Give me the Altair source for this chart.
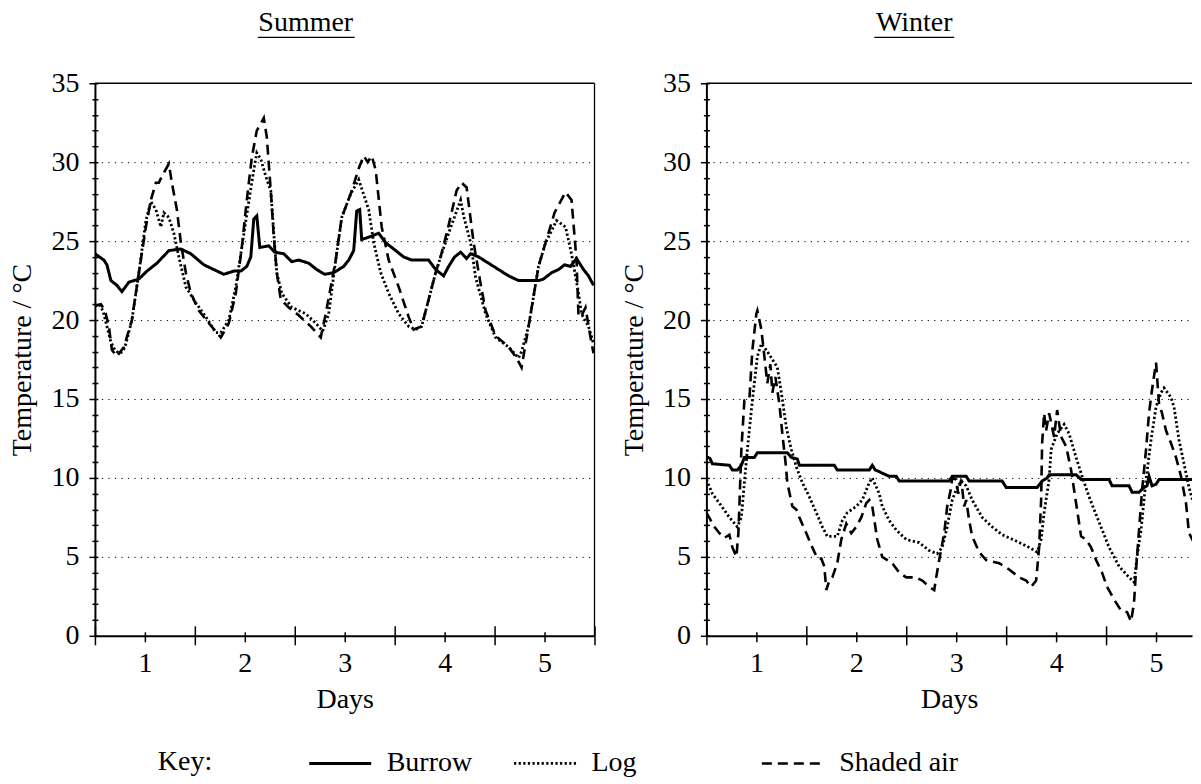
import altair as alt
import pandas as pd

FONT = "Liberation Serif"
FS = 28
NBSP = "\u00a0"
ZWSP = "\u200b"

series_names = ["Burrow", "Log", "Shaded air"]

# ---- Summer ----
summer_burrow_day = [0.50, 0.59, 0.62, 0.66, 0.72, 0.77, 0.84, 0.94, 1.02, 1.12, 1.24, 1.36, 1.46, 1.59, 1.69, 1.79,
                     1.89, 1.96, 2.02, 2.06, 2.09, 2.12, 2.15, 2.24, 2.30, 2.39, 2.47, 2.54, 2.64, 2.72, 2.80, 2.89,
                     2.99, 3.04, 3.09, 3.12, 3.15, 3.17, 3.26, 3.34, 3.41, 3.49, 3.59, 3.67, 3.84, 3.91, 3.99, 4.04,
                     4.10, 4.16, 4.22, 4.26, 4.34, 4.44, 4.54, 4.64, 4.74, 4.84, 4.94, 4.99, 5.07, 5.14, 5.20, 5.26,
                     5.32, 5.39, 5.44, 5.49]
summer_burrow_temp = [24.2, 23.8, 23.5, 22.5, 22.2, 21.8, 22.4, 22.6, 23.1, 23.6, 24.4, 24.5, 24.2, 23.5, 23.2, 22.9,
                      23.1, 23.1, 23.4, 24.0, 26.4, 26.6, 24.6, 24.7, 24.3, 24.2, 23.7, 23.8, 23.6, 23.2, 22.9, 23.0,
                      23.4, 23.8, 24.4, 26.9, 27.0, 25.1, 25.3, 25.5, 24.9, 24.5, 24.0, 23.8, 23.8, 23.2, 22.8, 23.4,
                      24.0, 24.3, 23.9, 24.2, 24.0, 23.6, 23.2, 22.8, 22.5, 22.5, 22.5, 22.6, 23.0, 23.2, 23.5, 23.4,
                      23.9, 23.2, 22.8, 22.2]

summer_log_day = [0.50, 0.54, 0.58, 0.62, 0.66, 0.70, 0.74, 0.78, 0.81, 0.87, 0.94, 1.01, 1.06, 1.11, 1.16, 1.19,
                  1.24, 1.29, 1.34, 1.41, 1.51, 1.61, 1.71, 1.76, 1.84, 1.91, 1.97, 2.04, 2.09, 2.12, 2.16, 2.21,
                  2.26, 2.29, 2.32, 2.37, 2.47, 2.61, 2.71, 2.78, 2.84, 2.91, 2.97, 3.06, 3.14, 3.24, 3.29, 3.36,
                  3.44, 3.54, 3.64, 3.71, 3.77, 3.84, 3.91, 3.96, 4.04, 4.16, 4.19, 4.26, 4.31, 4.41, 4.51, 4.64,
                  4.74, 4.77, 4.84, 4.94, 5.01, 5.12, 5.21, 5.27, 5.34, 5.37, 5.44, 5.49]
summer_log_temp = [20.9, 21.0, 20.6, 19.6, 18.6, 18.1, 17.9, 18.0, 18.5, 20.0, 23.0, 26.3, 27.5, 27.0, 25.9, 26.8,
                   26.5, 25.5, 24.0, 22.1, 21.1, 20.2, 19.2, 19.2, 20.0, 22.1, 24.6, 27.5, 29.5, 30.6, 30.2, 29.1,
                   28.2, 25.5, 23.0, 21.7, 20.8, 20.4, 19.8, 19.3, 20.4, 23.8, 26.5, 28.0, 28.9, 27.0, 24.9, 23.0,
                   21.7, 20.4, 19.6, 19.4, 19.6, 21.3, 23.0, 24.0, 25.5, 27.6, 26.6, 24.9, 22.7, 20.4, 18.9, 18.3,
                   17.6, 18.0, 19.6, 23.4, 24.9, 26.3, 25.9, 24.2, 21.7, 20.4, 19.6, 18.5]

summer_air_day = [0.50, 0.56, 0.60, 0.64, 0.67, 0.72, 0.79, 0.87, 0.94, 1.01, 1.06, 1.11, 1.14, 1.17, 1.24, 1.27,
                  1.32, 1.36, 1.41, 1.46, 1.54, 1.64, 1.76, 1.84, 1.91, 1.97, 2.02, 2.07, 2.12, 2.19, 2.22, 2.26,
                  2.29, 2.32, 2.36, 2.44, 2.54, 2.66, 2.76, 2.81, 2.91, 2.97, 3.06, 3.14, 3.19, 3.23, 3.27, 3.31,
                  3.37, 3.44, 3.54, 3.64, 3.69, 3.77, 3.84, 3.91, 3.96, 4.04, 4.12, 4.17, 4.22, 4.29, 4.36, 4.41,
                  4.51, 4.64, 4.72, 4.77, 4.84, 4.94, 5.01, 5.10, 5.21, 5.27, 5.32, 5.34, 5.38, 5.41, 5.46, 5.49]
summer_air_temp = [20.9, 21.0, 20.6, 19.6, 18.1, 17.7, 18.3, 20.0, 23.0, 25.9, 27.6, 28.7, 28.7, 29.1, 29.9, 28.7,
                   27.0, 24.9, 23.0, 21.7, 20.6, 19.8, 18.9, 19.8, 21.7, 24.6, 27.6, 30.3, 32.0, 32.8, 31.6, 28.2,
                   25.3, 23.0, 21.3, 20.8, 20.3, 19.6, 18.9, 20.4, 23.8, 26.5, 28.0, 29.6, 30.4, 30.0, 30.4, 29.5,
                   25.9, 23.8, 22.1, 20.2, 19.4, 19.6, 21.3, 23.0, 24.0, 26.0, 28.2, 28.7, 28.4, 24.9, 22.3, 20.6,
                   19.0, 18.3, 17.6, 17.0, 19.6, 23.4, 24.9, 26.8, 28.1, 27.6, 23.8, 20.2, 20.4, 20.8, 18.9, 17.9]

# ---- Winter ----
winter_burrow_day = [0.50, 0.53, 0.56, 0.73, 0.76, 0.81, 0.85, 0.88, 0.98, 1.01, 1.31, 1.35, 1.41, 1.43, 1.78, 1.81,
                     2.13, 2.16, 2.19, 2.23, 2.26, 2.33, 2.40, 2.43, 2.93, 2.96, 3.10, 3.13, 3.46, 3.50, 3.81, 3.86,
                     3.91, 3.93, 4.20, 4.25, 4.53, 4.56, 4.73, 4.76, 4.83, 4.88, 4.91, 4.93, 4.96, 5.00, 5.03, 5.50]
winter_burrow_temp = [11.3, 11.3, 10.9, 10.8, 10.5, 10.5, 10.8, 11.3, 11.3, 11.6, 11.6, 11.3, 11.2, 10.8, 10.8, 10.5,
                      10.5, 10.8, 10.5, 10.4, 10.3, 10.1, 10.1, 9.8, 9.8, 10.1, 10.1, 9.8, 9.8, 9.4, 9.4, 9.8,
                      10.0, 10.2, 10.2, 9.9, 9.9, 9.5, 9.5, 9.1, 9.1, 9.4, 9.5, 10.1, 9.5, 9.6, 9.9, 9.9]

winter_log_day = [0.50, 0.56, 0.63, 0.73, 0.81, 0.85, 0.88, 0.91, 0.96, 1.01, 1.05, 1.10, 1.15, 1.21, 1.25, 1.30,
                  1.35, 1.40, 1.46, 1.53, 1.60, 1.66, 1.71, 1.81, 1.86, 1.91, 2.00, 2.06, 2.13, 2.16, 2.23, 2.26,
                  2.33, 2.40, 2.50, 2.63, 2.73, 2.81, 2.86, 2.91, 2.96, 3.01, 3.05, 3.10, 3.16, 3.26, 3.36, 3.46,
                  3.60, 3.73, 3.81, 3.85, 3.88, 3.93, 3.95, 4.01, 4.08, 4.13, 4.20, 4.26, 4.33, 4.43, 4.53, 4.63,
                  4.73, 4.78, 4.81, 4.85, 4.90, 4.95, 5.00, 5.05, 5.08, 5.15, 5.18, 5.23, 5.28, 5.33, 5.40, 5.44,
                  5.50]
winter_log_temp = [9.9, 9.0, 8.4, 7.5, 6.9, 7.5, 9.7, 11.8, 14.9, 17.7, 18.5, 18.1, 17.6, 17.0, 15.4, 13.2,
                   11.8, 10.7, 9.7, 8.8, 7.8, 6.9, 6.3, 6.3, 7.3, 7.8, 8.2, 8.6, 9.7, 10.0, 9.0, 8.2,
                   7.3, 6.7, 6.1, 5.9, 5.4, 5.2, 5.6, 6.9, 8.6, 9.4, 9.8, 9.5, 8.6, 7.5, 6.9, 6.4,
                   6.0, 5.6, 5.3, 6.1, 7.8, 9.9, 11.8, 12.8, 13.4, 12.8, 11.3, 10.1, 8.8, 7.2, 5.6, 4.4,
                   3.7, 3.4, 5.0, 6.7, 9.9, 12.4, 14.5, 15.4, 15.7, 15.1, 14.5, 12.4, 10.9, 9.4, 7.8, 6.7,
                   5.6]

winter_air_day = [0.50, 0.58, 0.63, 0.68, 0.73, 0.76, 0.80, 0.82, 0.85, 0.88, 0.93, 0.96, 1.00, 1.01, 1.05, 1.08,
                  1.11, 1.14, 1.16, 1.19, 1.23, 1.26, 1.29, 1.31, 1.36, 1.40, 1.43, 1.50, 1.56, 1.61, 1.65, 1.68,
                  1.70, 1.73, 1.76, 1.81, 1.85, 1.90, 1.95, 2.00, 2.05, 2.10, 2.13, 2.16, 2.21, 2.26, 2.36, 2.43,
                  2.50, 2.60, 2.66, 2.73, 2.78, 2.80, 2.83, 2.88, 2.91, 2.95, 2.96, 3.00, 3.02, 3.05, 3.08, 3.10,
                  3.13, 3.16, 3.23, 3.30, 3.36, 3.43, 3.53, 3.63, 3.70, 3.75, 3.80, 3.83, 3.85, 3.86, 3.88, 3.90,
                  3.93, 3.98, 4.01, 4.05, 4.10, 4.15, 4.20, 4.25, 4.30, 4.35, 4.40, 4.46, 4.51, 4.58, 4.65, 4.71,
                  4.75, 4.78, 4.80, 4.83, 4.86, 4.90, 4.93, 4.96, 5.00, 5.03, 5.06, 5.10, 5.15, 5.20, 5.25, 5.30,
                  5.33, 5.38, 5.43, 5.50]
winter_air_temp = [7.8, 6.9, 6.5, 6.2, 6.4, 5.6, 5.0, 6.5, 11.8, 14.9, 15.0, 18.1, 20.4, 20.6, 19.4, 17.7,
                   16.0, 17.2, 15.4, 16.4, 14.7, 12.8, 11.1, 9.7, 8.2, 8.0, 7.5, 6.5, 5.6, 4.9, 4.9, 4.4,
                   2.9, 3.5, 3.7, 4.6, 6.1, 7.1, 6.5, 6.9, 7.5, 8.4, 8.6, 8.2, 6.1, 5.0, 4.6, 4.0,
                   3.7, 3.7, 3.5, 3.1, 2.9, 3.7, 4.8, 6.5, 8.2, 9.4, 10.0, 9.9, 9.0, 9.9, 8.2, 8.6,
                   7.3, 6.3, 5.3, 4.8, 4.7, 4.6, 4.2, 3.7, 3.5, 3.1, 3.5, 5.6, 8.6, 12.2, 14.1, 13.0,
                   14.1, 12.6, 14.3, 12.6, 12.0, 10.5, 8.4, 6.3, 6.1, 5.6, 4.8, 4.0, 3.1, 2.3, 1.6, 1.5,
                   0.9, 2.1, 4.2, 6.7, 9.2, 11.8, 14.1, 15.6, 17.3, 14.7, 14.1, 13.0, 12.2, 11.3, 10.1, 8.4,
                   6.5, 5.9, 4.2, 3.2]

summer_x_ticks = [0.5, 1, 1.5, 2, 2.5, 3, 3.5, 4, 4.5, 5, 5.5]
winter_x_ticks = [0.5, 1, 1.5, 2, 2.5, 3, 3.5, 4, 4.5, 5]
y_tick_values = list(range(0, 36))

PLOT_H = 553
PX_PER_DAY = 100


def make_df(days, temps, name):
    return pd.DataFrame({"day": days, "temp": temps, "series": name})


summer_df = pd.concat([
    make_df(summer_burrow_day, summer_burrow_temp, "Burrow"),
    make_df(summer_log_day, summer_log_temp, "Log"),
    make_df(summer_air_day, summer_air_temp, "Shaded air"),
], ignore_index=True)
winter_df = pd.concat([
    make_df(winter_burrow_day, winter_burrow_temp, "Burrow"),
    make_df(winter_log_day, winter_log_temp, "Log"),
    make_df(winter_air_day, winter_air_temp, "Shaded air"),
], ignore_index=True)

# the key's "Log" entry is followed by a wider gap: pad its label with non-breaking spaces
log_label = "Log" + NBSP * 12 + ZWSP

legend = alt.Legend(
    title="Key:", orient="none", legendX=63, legendY=648, direction="horizontal",
    titleOrient="left", titlePadding=95, titleAnchor="start", titleBaseline="line-top",
    titleLineHeight=62,
    symbolType="stroke", symbolSize=3844, symbolStrokeColor="black",
    labelOffset=14, columnPadding=35, labelLimit=0, padding=0,
    labelExpr="datum.label == 'Log' ? '" + log_label + "' : datum.label",
)

dash_scale = alt.Scale(domain=series_names, range=[[1, 0], [2.2, 2.4], [10, 6]])
width_scale = alt.Scale(domain=series_names, range=[3.0, 2.6, 1.6])


def panel(df, title, title_x, ul_x1, ul_x2, x_max, x_ticks, right_border):
    width = (x_max - 0.5) * PX_PER_DAY
    x_main = alt.X(
        "day:Q", scale=alt.Scale(domain=[0.5, x_max], nice=False, zero=False),
        axis=alt.Axis(values=x_ticks, title="Days", grid=False,
                      labelExpr="datum.value % 1 === 0 ? '' + datum.value : ''",
                      tickSize={"condition": {"test": "datum.value % 1 !== 0", "value": 9}, "value": 6},
                      labelPadding=8, titlePadding=5, orient="bottom", labelOverlap=False),
    )
    y_main = alt.Y(
        "temp:Q", scale=alt.Scale(domain=[0, 35], nice=False, zero=True),
        axis=alt.Axis(values=y_tick_values, title="Temperature / °C", grid=True,
                      labelExpr="datum.value % 5 === 0 ? datum.label : ''",
                      tickSize={"condition": {"test": "datum.value % 5 === 0", "value": 6}, "value": 3},
                      gridOpacity={"condition": {"test": "datum.value % 5 === 0 && datum.value > 0 && datum.value < 35",
                                                 "value": 1}, "value": 0},
                      labelPadding=10, titlePadding=14, orient="left", labelOverlap=False),
    )
    lines = alt.Chart(df).mark_line(color="black", clip=True).encode(
        x=x_main, y=y_main,
        strokeDash=alt.StrokeDash("series:N", scale=dash_scale, legend=legend),
        strokeWidth=alt.StrokeWidth("series:N", scale=width_scale, legend=legend),
    )
    inner = alt.Chart(df).mark_point(opacity=0, clip=True).encode(
        x=alt.X("day:Q", axis=alt.Axis(values=x_ticks, labels=False, domain=False, grid=False, title=None,
                                        orient="bottom",
                                        tickSize=alt.ExprRef(expr="datum.value % 1 === 0 ? -4 : -10"))),
        y=alt.Y("temp:Q", axis=alt.Axis(values=y_tick_values, labels=False, domain=False, grid=False, title=None,
                                         orient="left", tickSize=alt.ExprRef(expr="-3"))),
    )
    tdf = pd.DataFrame({"t": [title]})
    ttl = alt.Chart(tdf).mark_text(font=FONT, fontSize=FS, baseline="alphabetic", align="center",
                                   color="black").encode(
        x=alt.value(title_x), y=alt.value(-52), text="t:N")
    ul = alt.Chart(tdf).mark_rule(color="black", strokeWidth=1.3).encode(
        x=alt.value(ul_x1), x2=alt.value(ul_x2), y=alt.value(-46))
    top = alt.Chart(tdf).mark_rule(color="black", strokeWidth=1.3).encode(
        x=alt.value(0), x2=alt.value(width), y=alt.value(0))
    layers = [lines, inner, ttl, ul, top]
    if right_border:
        layers.append(alt.Chart(tdf).mark_rule(color="black", strokeWidth=1.3).encode(
            x=alt.value(width), y=alt.value(0), y2=alt.value(PLOT_H)))
    return alt.layer(*layers).resolve_axis(
        x="independent", y="independent").properties(width=width, height=PLOT_H)


summer = panel(summer_df, "Summer", 211, 163, 260, 5.5, summer_x_ticks, True)
winter = panel(winter_df, "Winter", 208, 168, 248, 5.36, winter_x_ticks, False)

chart = alt.hconcat(summer, winter, spacing=25).resolve_scale(
    strokeDash="shared", strokeWidth="shared"
).properties(
    padding={"left": 1, "top": 1, "right": 0, "bottom": 0}
).configure_view(
    stroke=None
).configure_axis(
    labelFont=FONT, titleFont=FONT, labelFontSize=FS, titleFontSize=FS,
    labelColor="black", titleColor="black", domainColor="black", tickColor="black",
    domainWidth=2, tickWidth=1.5, gridColor="black", gridDash=[1.2, 5.3], gridWidth=1,
    titleFontWeight="normal",
).configure_legend(
    labelFont=FONT, titleFont=FONT, labelFontSize=FS, titleFontSize=FS,
    labelColor="black", titleColor="black", titleFontWeight="normal",
)

chart.save("out.html", embed_options={"renderer": "svg", "actions": False})
